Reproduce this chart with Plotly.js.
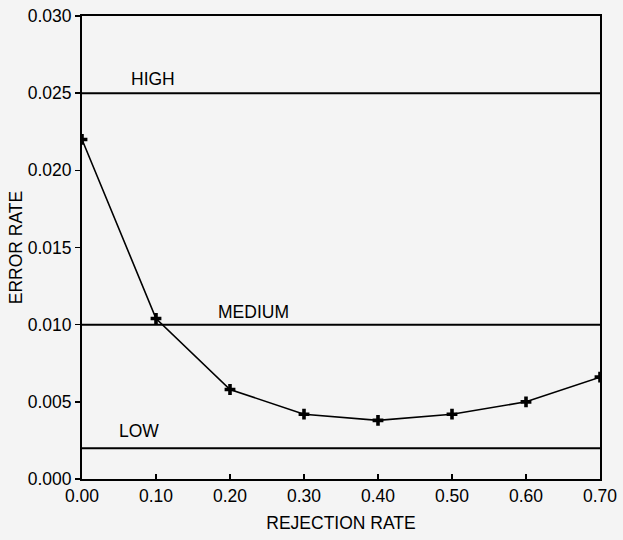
<!DOCTYPE html>
<html>
<head>
<meta charset="utf-8">
<script src="https://cdn.plot.ly/plotly-3.0.1.min.js"></script>
<style>
html,body{margin:0;padding:0;background:#f4f4f4;}
#chart{width:623px;height:540px;}
</style>
</head>
<body>
<div id="chart"></div>
<script>
// Data
const rejectionRate = [0.00, 0.10, 0.20, 0.30, 0.40, 0.50, 0.60, 0.70];
const errorRate     = [0.0220, 0.0104, 0.0058, 0.0042, 0.0038, 0.0042, 0.0050, 0.0066];

// Threshold levels
const levelNames  = ["HIGH", "MEDIUM", "LOW"];
const levelValues = [0.025, 0.010, 0.002];
const levelLabelX = [0.096, 0.232, 0.077];
const levelLabelY = [0.0259, 0.0108, 0.0031];

const xRange = [0, 0.70];
const yRange = [0, 0.030];

const FONT = '"Liberation Sans", Arial, sans-serif';
const FS = 17.5;
const INK = '#000';

const traces = [];
levelValues.forEach((v, i) => {
  traces.push({
    x: xRange, y: [v, v], mode: 'lines', type: 'scatter',
    line: {color: INK, width: 2}, hoverinfo: 'skip', showlegend: false,
    name: levelNames[i]
  });
});
traces.push({
  x: rejectionRate, y: errorRate, mode: 'lines+markers', type: 'scatter',
  line: {color: INK, width: 1.6},
  marker: {symbol: 'cross', size: 9, color: INK},
  showlegend: false
});

const annotations = levelNames.map((n, i) => ({
  x: levelLabelX[i], y: levelLabelY[i], text: n, showarrow: false,
  xanchor: 'center', yanchor: 'middle',
  font: {family: FONT, size: FS, color: INK}
}));

const layout = {
  width: 623, height: 540,
  paper_bgcolor: '#f4f4f4', plot_bgcolor: '#f4f4f4',
  margin: {l: 82, r: 23, t: 16, b: 61},
  showlegend: false,
  font: {family: FONT, size: FS, color: INK},
  xaxis: {
    range: xRange, tickvals: rejectionRate, tickformat: '.2f',
    ticks: 'inside', ticklen: 5, tickcolor: INK, tickwidth: 1.5,
    showline: true, linecolor: INK, linewidth: 2, mirror: true,
    showgrid: false, zeroline: false,
    tickfont: {family: FONT, size: FS, color: INK},
    title: {text: 'REJECTION RATE', font: {family: FONT, size: FS, color: INK}, standoff: 12}
  },
  yaxis: {
    range: yRange, dtick: 0.005, tickformat: '.3f',
    ticks: 'outside', ticklen: 5, tickcolor: INK, tickwidth: 1.5,
    showline: true, linecolor: INK, linewidth: 2, mirror: true,
    showgrid: false, zeroline: false,
    tickfont: {family: FONT, size: FS, color: INK},
    title: {text: 'ERROR RATE', font: {family: FONT, size: FS, color: INK}, standoff: 1}
  },
  annotations: annotations
};

Plotly.newPlot('chart', traces, layout, {staticPlot: true, displayModeBar: false});
</script>
</body>
</html>
